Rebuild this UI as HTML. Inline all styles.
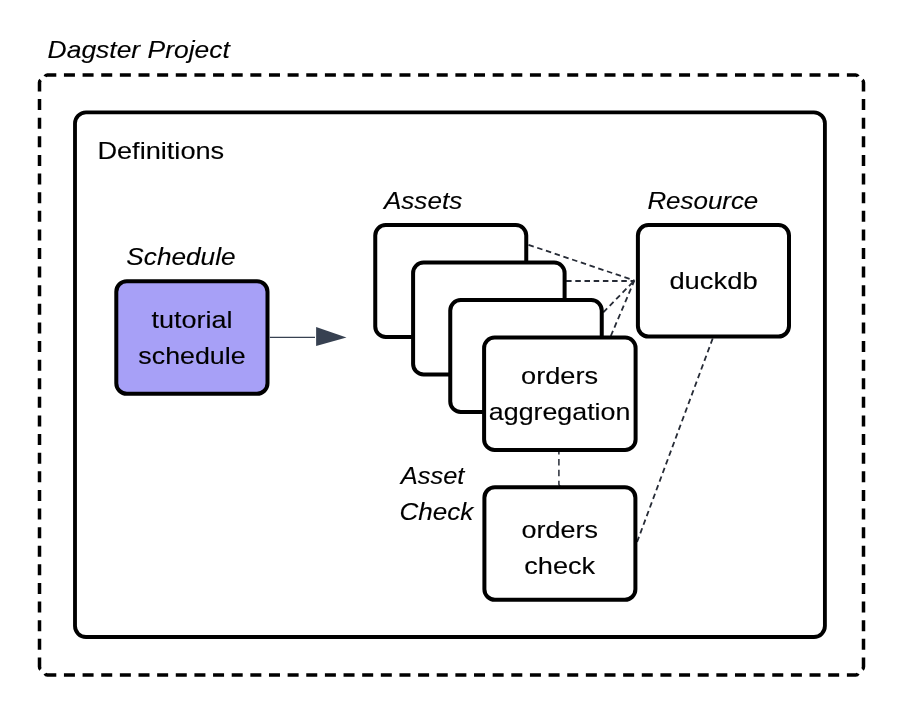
<!DOCTYPE html>
<html><head><meta charset="utf-8">
<style>
html,body{margin:0;padding:0;background:#fff;}
svg{display:block;will-change:transform;}
text{font-family:"Liberation Sans", sans-serif;fill:#000;stroke:#000;stroke-width:0.12px;}
.it{font-style:italic;}
</style></head>
<body>
<svg width="900" height="713" viewBox="0 0 900 713">
<rect x="0" y="0" width="900" height="713" fill="#fff"/>
<!-- outer dashed project border -->
<g stroke="#000" stroke-width="3.5" fill="none">
<line x1="63.94" y1="75" x2="839.16" y2="75" stroke-dasharray="11 7.64"/>
<line x1="63.94" y1="674.9" x2="839.16" y2="674.9" stroke-dasharray="11 7.64"/>
<line x1="39.5" y1="99.11" x2="39.5" y2="649.79" stroke-dasharray="11 7.61"/>
<line x1="863.5" y1="99.11" x2="863.5" y2="649.79" stroke-dasharray="11 7.61"/>
<path d="M45.1,76.5 Q45.8,75 47.3,75 L56.3,75"/>
<path d="M40.6,80 Q39.5,81 39.5,82.5 L39.5,91.5"/>
<path d="M846.9,75 L855.8,75 Q857.3,75 858,76.5"/>
<path d="M862.4,80 Q863.5,81 863.5,82.5 L863.5,91.5"/>
<path d="M39.5,657.4 L39.5,666.8 Q39.5,668.4 40.6,669.3"/>
<path d="M45.1,673.4 Q45.8,674.9 47.3,674.9 L56.3,674.9"/>
<path d="M863.5,657.4 L863.5,666.8 Q863.5,668.4 862.4,669.3"/>
<path d="M846.9,674.9 L855.8,674.9 Q857.3,674.9 858,673.4"/>
</g>
<text class="it" x="47.6" y="58.4" font-size="24" textLength="182.2" lengthAdjust="spacingAndGlyphs">Dagster Project</text>
<!-- definitions box -->
<rect x="75" y="112.3" width="749.9" height="524.7" rx="11" fill="none" stroke="#000" stroke-width="3.85"/>
<text x="97.4" y="158.7" font-size="24" textLength="126.8" lengthAdjust="spacingAndGlyphs">Definitions</text>
<!-- schedule -->
<text class="it" x="126.3" y="264.9" font-size="24" textLength="109.3" lengthAdjust="spacingAndGlyphs">Schedule</text>
<rect x="116.3" y="281.2" width="151.2" height="112.6" rx="10.5" fill="#a7a0f7" stroke="#000" stroke-width="4"/>
<text x="192" y="328.2" font-size="24" text-anchor="middle" textLength="81.0" lengthAdjust="spacingAndGlyphs">tutorial</text>
<text x="192" y="364.3" font-size="24" text-anchor="middle" textLength="107.3" lengthAdjust="spacingAndGlyphs">schedule</text>
<!-- arrow -->
<line x1="269.8" y1="337.4" x2="315" y2="337.4" stroke="#374151" stroke-width="1.4"/>
<polygon points="316.1,327 346.5,337.4 316.1,345.9" fill="#374151"/>
<!-- dashed connectors -->
<g stroke="#262b36" stroke-width="1.8" stroke-dasharray="5.5 3.7" fill="none">
<line x1="528.5" y1="244.8" x2="634.4" y2="280.5"/>
<line x1="566.1" y1="281" x2="634.4" y2="281"/>
<line x1="603.3" y1="312.4" x2="634.4" y2="280.5"/>
<line x1="610.8" y1="336" x2="634.4" y2="280.5"/>
<path d="M558.9,448 L558.9,484.3 Q559.2,486.2 561,486.8" stroke-dasharray="6.5 4.4" stroke-width="1.5"/>
<line x1="712.7" y1="338.5" x2="635.4" y2="546.5"/>
</g>
<!-- assets -->
<text class="it" x="383.9" y="208.7" font-size="24" textLength="78.3" lengthAdjust="spacingAndGlyphs">Assets</text>
<rect x="375.25" y="225" width="151" height="112" rx="10.5" fill="#fff" stroke="#000" stroke-width="4"/>
<rect x="413.1" y="262.5" width="151.5" height="112" rx="10.5" fill="#fff" stroke="#000" stroke-width="4"/>
<rect x="450.25" y="300" width="151.5" height="112" rx="10.5" fill="#fff" stroke="#000" stroke-width="4"/>
<rect x="484.1" y="337.6" width="151.5" height="112.3" rx="10.5" fill="#fff" stroke="#000" stroke-width="4"/>
<text x="559.6" y="384.3" font-size="24" text-anchor="middle" textLength="77.0" lengthAdjust="spacingAndGlyphs">orders</text>
<text x="559.6" y="419.9" font-size="24" text-anchor="middle" textLength="141.5" lengthAdjust="spacingAndGlyphs">aggregation</text>
<!-- resource -->
<text class="it" x="647.4" y="209.1" font-size="24" textLength="110.9" lengthAdjust="spacingAndGlyphs">Resource</text>
<rect x="637.9" y="225.1" width="151.1" height="111.5" rx="10.5" fill="#fff" stroke="#000" stroke-width="4"/>
<text x="713.5" y="288.5" font-size="24" text-anchor="middle" textLength="88.2" lengthAdjust="spacingAndGlyphs">duckdb</text>
<!-- asset check -->
<text class="it" x="400.8" y="484" font-size="24" textLength="63.6" lengthAdjust="spacingAndGlyphs">Asset</text>
<text class="it" x="399.4" y="519.5" font-size="24" textLength="73.8" lengthAdjust="spacingAndGlyphs">Check</text>
<rect x="484.4" y="487.2" width="151" height="112.6" rx="10.5" fill="#fff" stroke="#000" stroke-width="4"/>
<text x="559.7" y="538.2" font-size="24" text-anchor="middle" textLength="76.4" lengthAdjust="spacingAndGlyphs">orders</text>
<text x="559.7" y="574.3" font-size="24" text-anchor="middle" textLength="71.0" lengthAdjust="spacingAndGlyphs">check</text>

</svg>
</body></html>
